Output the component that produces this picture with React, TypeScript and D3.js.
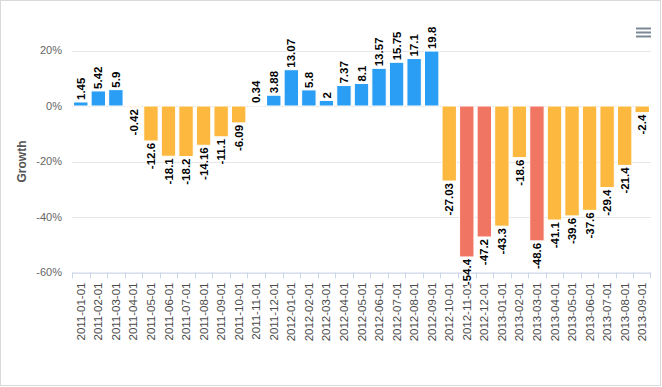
import React from "react";
import * as d3 from "d3";

const categories = [
  "2011-01-01","2011-02-01","2011-03-01","2011-04-01","2011-05-01","2011-06-01",
  "2011-07-01","2011-08-01","2011-09-01","2011-10-01","2011-11-01","2011-12-01",
  "2012-01-01","2012-02-01","2012-03-01","2012-04-01","2012-05-01","2012-06-01",
  "2012-07-01","2012-08-01","2012-09-01","2012-10-01","2012-11-01","2012-12-01",
  "2013-01-01","2013-02-01","2013-03-01","2013-04-01","2013-05-01","2013-06-01",
  "2013-07-01","2013-08-01","2013-09-01",
];
const growth = [
  1.45, 5.42, 5.9, -0.42, -12.6, -18.1, -18.2, -14.16, -11.1, -6.09, 0.34, 3.88,
  13.07, 5.8, 2, 7.37, 8.1, 13.57, 15.75, 17.1, 19.8, -27.03, -54.4, -47.2,
  -43.3, -18.6, -48.6, -41.1, -39.6, -37.6, -29.4, -21.4, -2.4,
];
const yTicks = [20, 0, -20, -40, -60];

const W = 662;
const H = 387;
const plot = { left: 72, right: 651, top: 50.5, bottom: 272.5 };
const font = "'Liberation Sans', Arial, Helvetica, sans-serif";

function colorFor(v: number) {
  if (v >= 0) return "#2A9DF4";
  if (v < -45) return "#F07562";
  return "#FDB83F";
}

export default function App() {
  const x = d3.scaleBand<string>().domain(categories).range([plot.left, plot.right]).padding(0);
  const y = d3.scaleLinear().domain([-60, 20]).range([plot.bottom, plot.top]);
  const step = x.step();
  const bw = step * 0.82;
  const y0 = y(0);

  return (
    <svg
      width={W}
      height={H}
      style={{ position: "absolute", left: 0, top: 0, fontFamily: font }}
    >
      <rect x={0} y={0} width={W} height={H} fill="#fff" />
      <rect x={0.5} y={0.5} width={660} height={385} fill="none" stroke="#d9d9d9" strokeWidth={1} />

      {yTicks.map((t) => (
        <line
          key={"g" + t}
          x1={plot.left}
          x2={plot.right}
          y1={Math.round(y(t)) + 0.5}
          y2={Math.round(y(t)) + 0.5}
          stroke="#e6e6e6"
          strokeWidth={1}
        />
      ))}
      {yTicks.map((t) => (
        <text
          key={"yl" + t}
          x={62}
          y={y(t)}
          dy="0.35em"
          textAnchor="end"
          fontSize={11}
          fill="#666"
        >
          {t + "%"}
        </text>
      ))}
      <text
        transform={`translate(26, ${(plot.top + plot.bottom) / 2}) rotate(-90)`}
        textAnchor="middle"
        fontSize={12}
        fontWeight="bold"
        fill="#555"
      >
        Growth
      </text>

      {growth.map((v, i) => {
        const cx = (x(categories[i]) as number) + step / 2;
        const top = Math.min(y(v), y0);
        const h = Math.abs(y(v) - y0);
        return (
          <rect
            key={"b" + i}
            x={cx - bw / 2}
            y={top}
            width={bw}
            height={h}
            fill={colorFor(v)}
            stroke="#fff"
            strokeWidth={1}
          />
        );
      })}

      <line x1={plot.left} x2={plot.right} y1={plot.bottom + 0.5} y2={plot.bottom + 0.5} stroke="#ccd6eb" />
      {categories.map((c, i) => {
        const xx = Math.round((x(c) as number)) + 0.5;
        return <line key={"t" + i} x1={xx} x2={xx} y1={plot.bottom} y2={plot.bottom + 6} stroke="#ccd6eb" />;
      })}
      <line x1={plot.right - 0.5} x2={plot.right - 0.5} y1={plot.bottom} y2={plot.bottom + 6} stroke="#ccd6eb" />
      {categories.map((c, i) => {
        const cx = (x(c) as number) + step / 2;
        return (
          <text
            key={"xl" + i}
            transform={`translate(${cx}, ${plot.bottom + 10}) rotate(-90)`}
            textAnchor="end"
            dy="0.35em"
            fontSize={11.5}
            fill="#4a4a4a"
          >
            {c}
          </text>
        );
      })}

      {growth.map((v, i) => {
        const cx = (x(categories[i]) as number) + step / 2;
        const pos = v >= 0;
        return (
          <text
            key={"dl" + i}
            transform={`translate(${cx}, ${y(v)}) rotate(-90)`}
            x={pos ? 2 : -2}
            dy="0.36em"
            textAnchor={pos ? "start" : "end"}
            fontSize={11.5}
            fontWeight="bold"
            fill="#000"
            stroke="#fff"
            strokeWidth={2}
            strokeLinejoin="round"
            paintOrder="stroke"
          >
            {String(v)}
          </text>
        );
      })}

      {[28.5, 32.5, 36.5].map((yy) => (
        <line key={"m" + yy} x1={636} x2={651} y1={yy} y2={yy} stroke="#7a8896" strokeWidth={2} />
      ))}
    </svg>
  );
}
